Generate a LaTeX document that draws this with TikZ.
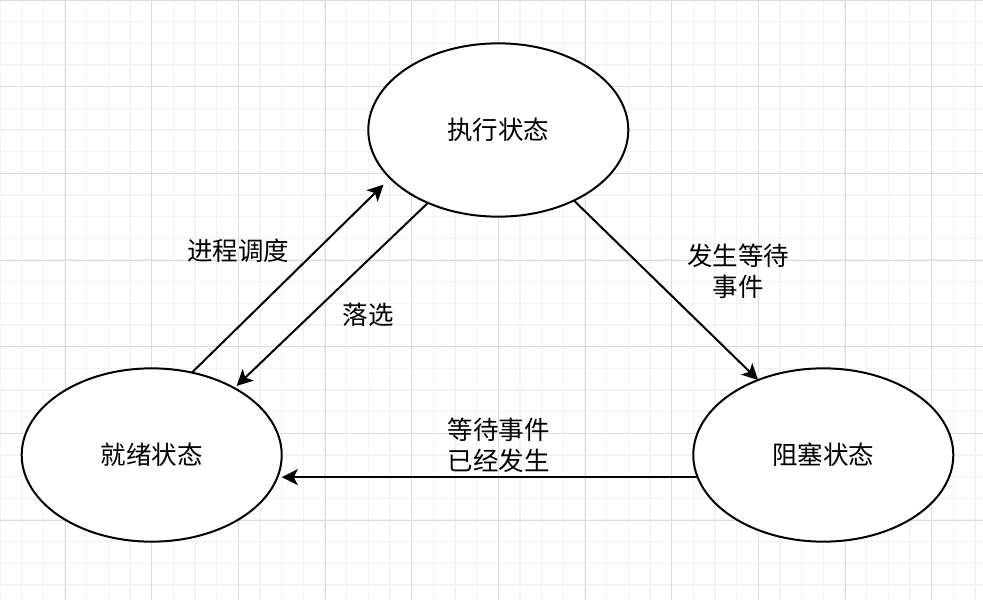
\documentclass[tikz,border=0pt]{standalone}
\usepackage{fontspec}
\newfontfamily\cjk{Noto Sans CJK SC}
\usetikzlibrary{shapes.geometric,arrows.meta}
\begin{document}
\begin{tikzpicture}[x=1pt,y=-1pt,
  minorgrid/.style={draw={rgb,255:red,243;green,243;blue,243},line width=1.3pt},
  majorgrid/.style={draw={rgb,255:red,220;green,220;blue,220},line width=0.9pt},
  state/.style={ellipse,draw=black,line width=2pt,fill=white,minimum width=260pt,minimum height=173.3pt,inner sep=0pt,outer sep=0pt,font=\cjk\fontsize{25.5pt}{31pt}\selectfont},
  lbl/.style={align=center,inner sep=0pt,font=\cjk\fontsize{25.5pt}{31pt}\selectfont},
  conn/.style={draw=black,line width=2pt,-{Stealth[length=16pt,width=16pt,inset=4pt]}}]
\useasboundingbox (0,0) rectangle (983,600);
\fill[white] (0,0) rectangle (983,600);
% grid
\foreach \i in {0,...,45} {
  \draw[minorgrid] (\i*21.6667,0) -- (\i*21.6667,600);
}
\foreach \j in {0,...,28} {
  \draw[minorgrid] (0,\j*21.6667) -- (983,\j*21.6667);
}
\foreach \i in {0,...,10} {
  \draw[majorgrid] (65+\i*86.6667,0) -- (65+\i*86.6667,600);
}
\foreach \j in {0,...,6} {
  \draw[majorgrid] (0,\j*86.6667) -- (983,\j*86.6667);
}
% states
\node[state] (E) at (498.3,130) {执行状态};
\node[state] (R) at (151.7,455) {就绪状态};
\node[state] (B) at (823.3,455) {阻塞状态};
% connectors
\draw[conn,shorten >=9.4pt] (R.64.3) -- (E.204.3);
\draw[conn,shorten >=3.2pt] (E.226.9) -- (R.39.9);
\draw[conn] (E.317.7) -- (B.131.9);
\draw[conn,shorten >=4.4pt] (B.190.9) -- (R.-10.9);
% labels
\node[lbl] (l1) at (238,251) {进程调度};
\node[lbl] (l2) at (368,315) {落选};
\node[lbl] (l3) at (738,271.5) {发生等待\\事件};
\node[lbl] (l4) at (498.5,445.5) {等待事件\\已经发生};
\end{tikzpicture}
\end{document}
